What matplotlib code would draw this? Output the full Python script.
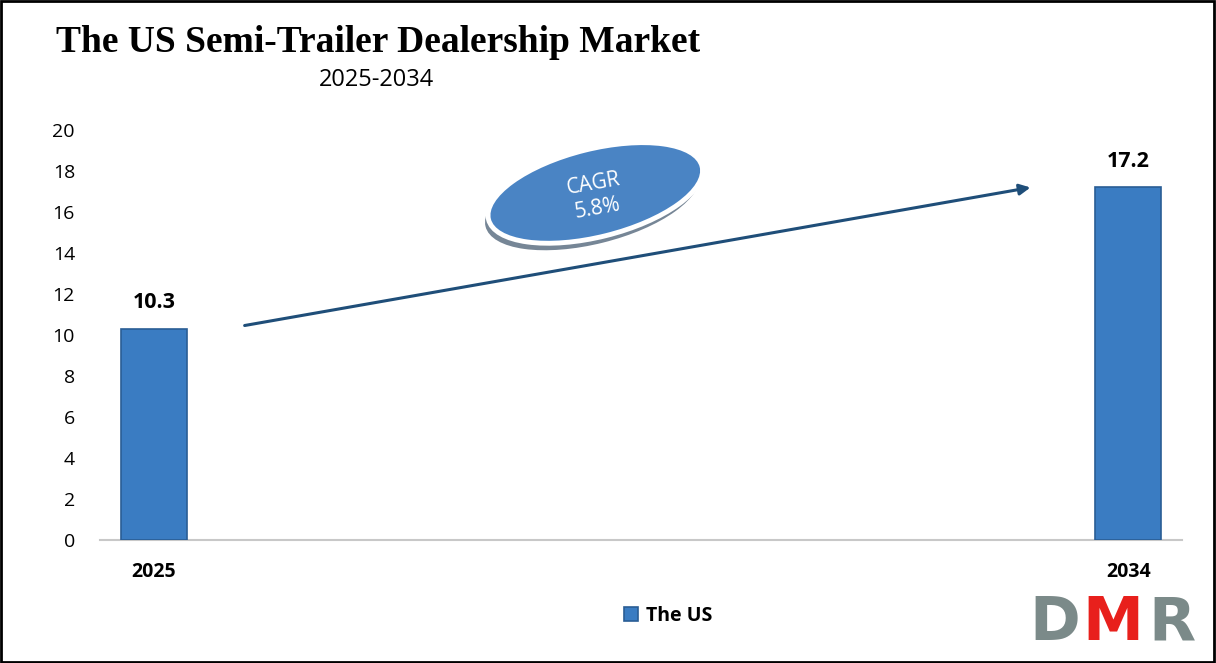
import matplotlib
matplotlib.use("Agg")
from matplotlib import pyplot as plt
from matplotlib.patches import Ellipse, Rectangle
from matplotlib.transforms import ScaledTranslation
import numpy as np

# data
years = ["2025", "2034"]
values = [10.3, 17.2]
series_name = "The US"
cagr_text = "CAGR\n5.8%"
title = "The US Semi-Trailer Dealership Market"
subtitle = "2025-2034"

plt.rcParams['font.family'] = ['Open Sans', 'DejaVu Sans']

fig = plt.figure(figsize=(12.16, 6.63), dpi=100)
ax = fig.add_axes([0.0822, 0.1855, 0.89, 0.6184])

x = np.arange(len(years))
bars = ax.bar(x, values, width=0.068, color="#3a7cc2", edgecolor="#2a5d95",
              linewidth=1.2, label=series_name, zorder=3)

for xi, v in zip(x, values):
    ax.text(xi, v + 0.75, f"{v}", ha="center", va="bottom", fontsize=15.5,
            fontweight="bold", color="black")

ax.set_xlim(-0.0554, 1.0554)
ax.set_ylim(0, 20)
ax.set_yticks(range(0, 21, 2))
ax.set_xticks(x)
ax.set_xticklabels(years, fontsize=14, fontweight="bold")
ax.tick_params(axis="y", labelsize=14, length=0, pad=18)
ax.tick_params(axis="x", length=0, pad=16)
for s in ["top", "right", "left"]:
    ax.spines[s].set_visible(False)
ax.spines["bottom"].set_color("#c8c8c8")
ax.spines["bottom"].set_linewidth(1.5)

# growth arrow
ax.annotate("", xy=(0.9025, 17.22), xytext=(0.0903, 10.44),
            arrowprops=dict(arrowstyle="-|>", color="#1f4e79", lw=2.2,
                            mutation_scale=16), zorder=4)

# CAGR bubble
cx, cy = 0.453, 16.93
bubble_tr = fig.dpi_scale_trans + ScaledTranslation(cx, cy, ax.transData)
shadow = Ellipse((-0.03, -0.07), 2.2, 0.88, angle=14, facecolor="#1b3550",
                 edgecolor="none", alpha=0.6, transform=bubble_tr, zorder=5)
ax.add_patch(shadow)
ell = Ellipse((0, 0), 2.2, 0.88, angle=14, facecolor="#4a84c4",
              edgecolor="white", linewidth=3.5, transform=bubble_tr, zorder=6)
ax.add_patch(ell)
ax.text(cx, cy - 0.15, cagr_text, ha="center", va="center", fontsize=15,
        color="white", rotation=10, linespacing=1.25, zorder=7)

# titles
fig.text(378 / 1216, 1 - 42 / 663, title, ha="center", va="center",
         fontsize=27, fontweight="bold", family="Liberation Serif")
fig.text(377 / 1216, 1 - 80 / 663, subtitle, ha="center", va="center",
         fontsize=17)

# legend
fig.legend(handles=[bars], loc="center", bbox_to_anchor=(668 / 1216, 1 - 616 / 663),
           frameon=False, handlelength=0.7, handleheight=0.7, handletextpad=0.4,
           prop={"weight": "bold", "size": 14})

# logo
logo_y = 1 - 624 / 663
fig.text(1055 / 1216, logo_y, "D", ha="center", va="center", fontsize=44,
         fontweight="bold", color="#7b8a89", family="DejaVu Sans")
fig.text(1113 / 1216, logo_y, "M", ha="center", va="center", fontsize=44,
         fontweight="bold", color="#e8201c", family="DejaVu Sans")
fig.text(1172 / 1216, logo_y, "R", ha="center", va="center", fontsize=44,
         fontweight="bold", color="#7b8a89", family="DejaVu Sans")

# outer border
fig.patches.append(Rectangle((0.001, 0.002), 0.997, 0.996, transform=fig.transFigure,
                             fill=False, edgecolor="black", linewidth=2))

fig.savefig("out.png", dpi=100)
